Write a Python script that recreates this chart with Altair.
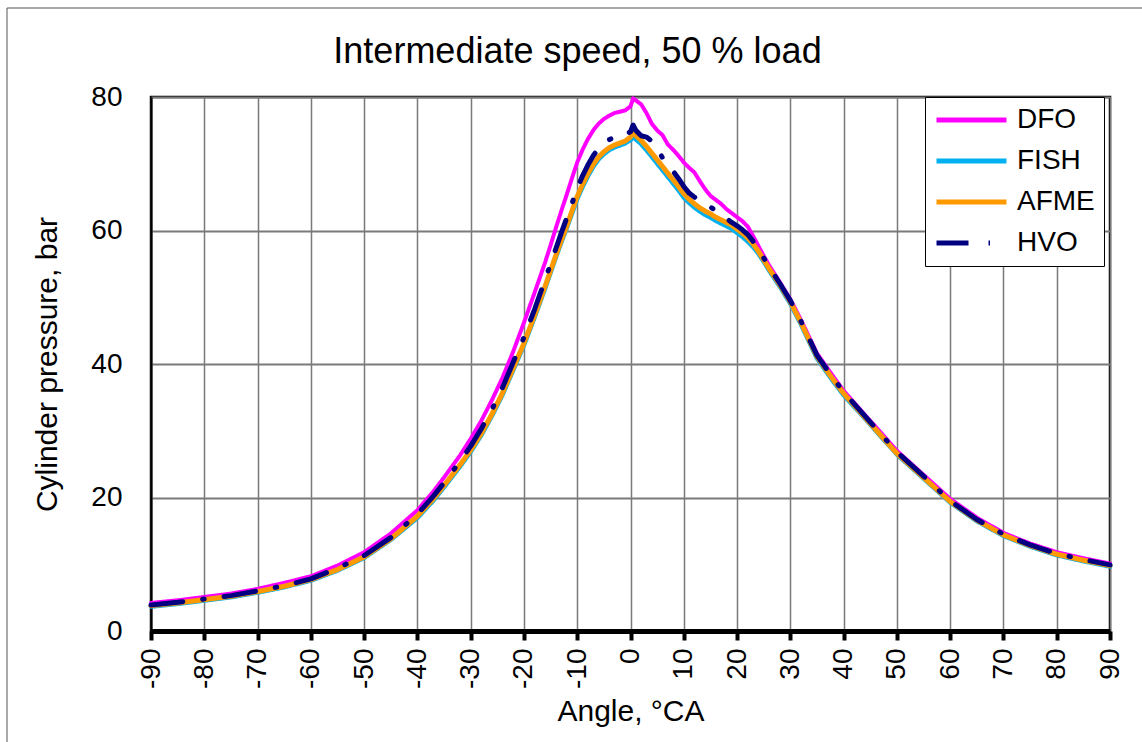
import altair as alt
import pandas as pd

# Crank angle grid (degrees CA) shared by every fuel trace
ANGLE = [-90, -85, -80, -75, -70, -65, -60, -55, -50, -45, -40,
         -37, -35, -32, -30, -28, -26, -24, -22, -20, -18, -16,
         -15, -14, -13, -12, -11, -10, -9, -8, -7, -6, -5, -4, -3, -2, -1,
         0, 0.5, 1,
         2, 3, 4, 5, 6, 7, 8, 9, 10, 11, 12, 13, 14, 15, 16, 17, 18, 19, 20,
         21, 22, 23, 24, 25, 26,
         28, 30, 32, 35, 38, 40,
         45, 50, 55, 60, 65, 70, 75, 80, 85, 90]

# Cylinder pressure, bar
DFO = [4.2, 4.6, 5.1, 5.6, 6.3, 7.2, 8.2, 9.8, 11.8, 14.6, 18.1,
       20.9, 23.0, 26.3, 28.8, 31.5, 34.6, 38.0, 41.9, 46.2, 50.7, 55.3,
       57.8, 60.4, 62.9, 65.3, 67.8, 70.2, 72.1, 73.7, 75.0, 76.0, 76.7, 77.2, 77.6, 77.8, 78.0,
       78.6, 79.8, 79.5,
       78.9, 77.6, 76.0, 75.0, 74.3, 72.9, 72.1, 71.2, 70.2, 69.4, 68.7, 67.4, 66.2, 65.2, 64.6,
       64.0, 63.2, 62.6, 62.0, 61.4, 60.6, 59.2, 57.7, 56.2, 54.8,
       52.3, 49.7, 46.6, 41.6, 38.2, 36.0,
       31.5, 27.0, 23.4, 19.8, 17.0, 14.7, 13.1, 11.8, 10.9, 10.1]

FISH = [3.7, 4.1, 4.6, 5.1, 5.8, 6.6, 7.6, 9.1, 11.0, 13.7, 17.0,
        19.6, 21.6, 24.7, 26.9, 29.4, 32.3, 35.5, 39.2, 42.9, 47.1, 51.5,
        53.8, 56.1, 58.3, 60.4, 62.6, 64.8, 66.6, 68.2, 69.6, 70.7, 71.5, 72.1, 72.5, 72.8, 73.1,
        73.6, 74.0, 73.7,
        73.0, 72.1, 71.1, 70.1, 69.1, 68.1, 67.1, 66.1, 65.0, 64.2, 63.5, 62.9, 62.4, 62.0, 61.5,
        61.1, 60.7, 60.3, 59.7, 59.1, 58.4, 57.6, 56.6, 55.4, 54.1,
        51.7, 49.1, 46.0, 40.9, 37.5, 35.4,
        31.0, 26.5, 22.9, 19.3, 16.5, 14.3, 12.7, 11.4, 10.5, 9.7]

AFME = [3.8, 4.2, 4.7, 5.2, 5.9, 6.7, 7.7, 9.2, 11.1, 13.8, 17.2,
        19.8, 21.8, 24.9, 27.1, 29.6, 32.5, 35.7, 39.4, 43.1, 47.3, 51.7,
        54.0, 56.3, 58.5, 60.6, 62.9, 65.1, 66.9, 68.5, 69.9, 71.0, 71.8, 72.4, 72.8, 73.1, 73.4,
        74.0, 74.7, 74.2,
        73.5, 72.6, 71.6, 70.6, 69.6, 68.6, 67.6, 66.6, 65.5, 64.7, 64.0, 63.4, 62.9, 62.5, 62.0,
        61.6, 61.2, 60.8, 60.2, 59.6, 58.9, 58.0, 56.9, 55.6, 54.3,
        51.9, 49.3, 46.2, 41.1, 37.7, 35.6,
        31.1, 26.6, 23.0, 19.4, 16.6, 14.4, 12.8, 11.5, 10.6, 9.8]

HVO = [3.9, 4.3, 4.8, 5.3, 6.0, 6.8, 7.8, 9.4, 11.3, 14.0, 17.5,
       20.2, 22.2, 25.4, 27.7, 30.3, 33.2, 36.5, 40.3, 44.0, 48.2, 52.7,
       55.0, 57.3, 59.6, 61.8, 64.0, 66.3, 68.2, 69.8, 71.2, 72.3, 73.0, 73.6, 74.0, 74.3, 74.3,
       74.8, 75.8, 75.0,
       74.2, 74.0, 73.4, 72.3, 70.9, 69.9, 68.9, 67.8, 66.6, 65.6, 65.0, 64.4, 63.9, 63.5, 63.0,
       62.4, 61.8, 61.2, 60.7, 60.1, 59.4, 58.4, 57.2, 55.9, 54.6,
       52.1, 49.5, 46.4, 41.3, 37.9, 35.8,
       31.3, 26.8, 23.2, 19.5, 16.7, 14.5, 12.9, 11.6, 10.7, 9.9]

FUELS = ["DFO", "FISH", "AFME", "HVO"]
COLORS = ["#FF00FF", "#00B0F0", "#FF9900", "#000080"]
DASHES = [[1, 0], [1, 0], [1, 0], [32, 20, 1.5, 20]]
WIDTHS = [4, 5, 5, 5]

series = {"DFO": DFO, "FISH": FISH, "AFME": AFME, "HVO": HVO}
df = pd.DataFrame(
    [{"fuel": f, "angle": a, "pressure": p}
     for f in FUELS for a, p in zip(ANGLE, series[f])]
)

FONT = "Liberation Sans"

x_enc = alt.X(
    "angle:Q",
    scale=alt.Scale(domain=[-90, 90], nice=False, zero=False),
    axis=alt.Axis(
        values=list(range(-90, 91, 10)), title="Angle, °CA", labelAngle=-90,
        labelExpr="datum.value + ''",
        labelFontSize=28, labelPadding=8, titleFontSize=30, titlePadding=8,
        domainColor="black", domainWidth=5, tickColor="black", tickWidth=4,
        tickSize=9, gridColor="#7a7a7a", gridWidth=1.5,
    ),
)
y_enc = alt.Y(
    "pressure:Q",
    scale=alt.Scale(domain=[0, 80], nice=False),
    axis=alt.Axis(
        values=[0, 20, 40, 60, 80], title="Cylinder pressure, bar",
        labelFontSize=28, labelPadding=29, ticks=False, titleFontSize=30,
        titlePadding=28, domainColor="black", domainWidth=2,
        gridColor="#7a7a7a", gridWidth=2,
    ),
)
# a trailing no-break space widens the legend box a little on the right
legend = alt.Legend(title=None, labelExpr="datum.label + '\u00a0'")
color_enc = alt.Color("fuel:N", scale=alt.Scale(domain=FUELS, range=COLORS),
                      legend=legend)
dash_enc = alt.StrokeDash("fuel:N", scale=alt.Scale(domain=FUELS, range=DASHES),
                          legend=legend)

base = alt.Chart(df).encode(x=x_enc, y=y_enc, color=color_enc, strokeDash=dash_enc)

layers = [
    base.transform_filter(alt.datum.fuel == f).mark_line(
        strokeWidth=w, strokeCap="round", strokeJoin="round"
    )
    for f, w in zip(FUELS, WIDTHS)
]

# thin outer frame around the chart area
frame = alt.Chart(pd.DataFrame({"k": [0]})).mark_rect(
    fill=None, stroke="#555555", strokeWidth=1
).encode(x=alt.value(-144), x2=alt.value(1010), y=alt.value(-89), y2=alt.value(660))

chart = alt.layer(frame, *layers).properties(
    width=959, height=534,
    autosize=alt.AutoSizeParams(type="none"),
    padding={"left": 151, "top": 97, "right": 32, "bottom": 111},
    title=alt.TitleParams(
        "Intermediate speed, 50 % load", fontSize=36, font=FONT,
        fontWeight="normal", color="black", anchor="middle", dx=-53, offset=-63,
    ),
    background="white",
).configure_view(
    stroke="black", strokeWidth=2.5
).configure_axis(
    labelFont=FONT, titleFont=FONT, labelColor="black", titleColor="black",
    titleFontWeight="normal",
).configure_legend(
    orient="none", legendX=774, legendY=0, labelFont=FONT, labelFontSize=28,
    labelColor="black", symbolType="stroke", symbolSize=4900,
    symbolStrokeWidth=5, labelOffset=8, rowPadding=13, padding=9,
    clipHeight=28, strokeColor="black", fillColor="white",
)

chart.save("out.html", embed_options={"renderer": "svg", "actions": False})
